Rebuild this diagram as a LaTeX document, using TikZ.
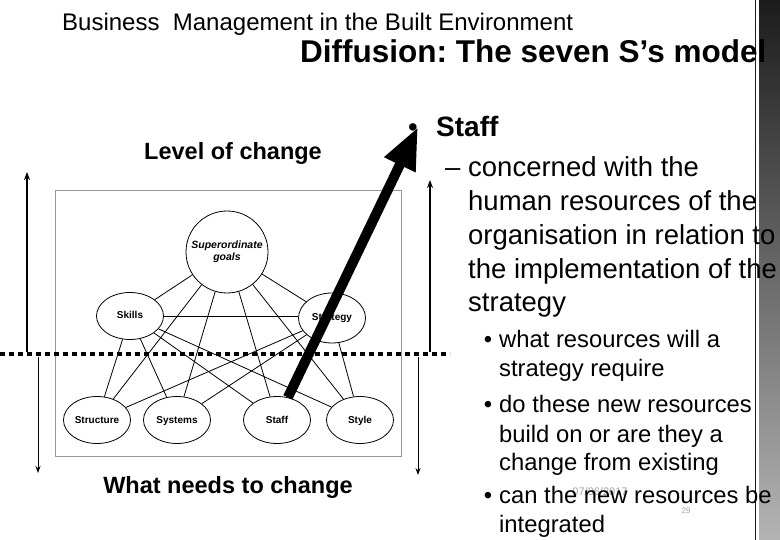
\documentclass[tikz,border=0pt]{standalone}
\usepackage{fontspec}
\setmainfont{Liberation Sans}
\usepackage{tikz}
\usetikzlibrary{arrows.meta,shapes.geometric,positioning}
\usepackage{xcolor}
\definecolor{framegray}{RGB}{150,150,150}
\definecolor{stripdark}{RGB}{28,28,28}
\definecolor{striplight}{RGB}{180,180,180}
\definecolor{footgray}{RGB}{165,165,165}
\tikzstyle{sbox} = [draw, ellipse, line width=0.8pt, minimum width=67pt, minimum height=47pt, inner sep=0pt, text height=8pt, text depth=2pt, font=\bfseries\fontsize{10}{10}\selectfont]
\tikzstyle{link} = [line width=0.8pt]
\tikzstyle{levelarrow} = [line width=1.6pt, -{Stealth[length=8pt,width=6pt]}]
\tikzstyle{needarrow} = [line width=1pt, -{Stealth[length=7pt,width=5pt]}]
\tikzstyle{mainline} = [anchor=base west, inner sep=0pt, font=\fontsize{27.5}{27.5}\selectfont]
\tikzstyle{subline} = [anchor=base west, inner sep=0pt, font=\fontsize{23.8}{23.8}\selectfont]
\frenchspacing

\begin{document}
\begin{tikzpicture}[x=1pt, y=-1pt]
\useasboundingbox (0,0) rectangle (780,540);
\fill[white] (0,0) rectangle (780,540);

% Side strip
\shade[top color=stripdark, bottom color=striplight] (759,0) rectangle (780,540);
\draw[line width=1.4pt, stripdark] (755.5,0) -- (755.5,540);

% Headings
\node[anchor=base west, inner sep=0pt, font=\fontsize{24}{24}\selectfont] (course) at (62,31) {Business\ \ Management in the Built Environment};
\node[anchor=base west, inner sep=0pt, font=\bfseries\fontsize{31.5}{31.5}\selectfont] (title) at (300,63) {Diffusion: The seven S’s model};

% Seven S's diagram
\draw[framegray] (55,190) rectangle (401,456);
\node[draw, circle, line width=0.8pt, minimum size=82pt, inner sep=0pt, align=center, font=\bfseries\itshape\fontsize{10.5}{12}\selectfont] (goals) at (227,252) {Superordinate\\goals};
\node[sbox] (skills) at (130,316) {Skills};
\node[sbox, minimum height=50pt] (strategy) at (332,318) {Strategy};
\node[sbox] (structure) at (97,420) {Structure};
\node[sbox] (systems) at (177,420) {Systems};
\node[sbox] (staff) at (277,420) {Staff};
\node[sbox] (style) at (360,420) {Style};

\foreach \s in {skills,strategy,structure,systems,staff,style}
    \draw[link] (goals) -- (\s);
\draw[link] (skills.east) -- (skills.east -| strategy.west);
\foreach \s in {structure,systems,staff,style}
    \draw[link] (skills) -- (\s);
\foreach \s in {structure,systems,staff,style}
    \draw[link] (strategy) -- (\s);

% Level line and arrows
\draw[line width=4.5pt, dash pattern=on 5pt off 4pt] (0,354) -- (450,354);
\coordinate (lupfoot) at (27,352);
\coordinate (luptop) at (27,172);
\coordinate (rupfoot) at (430,352);
\coordinate (ruptop) at (430,180);
\coordinate (ldownfoot) at (38,357);
\coordinate (ldownend) at (38,473);
\coordinate (rdownfoot) at (418,357);
\coordinate (rdownend) at (418,475);
\draw[levelarrow] (lupfoot) -- (luptop);
\draw[levelarrow] (rupfoot) -- (ruptop);
\draw[needarrow] (ldownfoot) -- (ldownend);
\draw[needarrow] (rdownfoot) -- (rdownend);

\node[font=\bfseries\fontsize{23.5}{23.5}\selectfont] (level) at (233,153) {Level of change};
\node[font=\bfseries\fontsize{23.5}{23.5}\selectfont] (needs) at (228,487) {What needs to change};

% Footer
\node[text=footgray, font=\fontsize{11}{11}\selectfont] (date) at (600,492) {07/06/2017};
\node[text=footgray, font=\fontsize{8}{8}\selectfont] (page) at (686,511) {29};

% Staff text
\node[mainline, anchor=base] (staffdot) at (413,137) {•};
\node[mainline, font=\bfseries\fontsize{28}{28}\selectfont] (stafftitle) at (436,137) {Staff};
\node[mainline] (dash) at (445,177) {–};
\foreach \txt [count=\i] in {concerned with the, human resources of the, organisation in relation to, the implementation of the, strategy}
    \node[mainline] (concern\i) at (468,{177+(\i-1)*33.7}) {\txt};
\foreach \txt/\yy [count=\i] in {what resources will a/348, strategy require/377, do these new resources/413, build on or are they a/442, change from existing/470, can the new resources be/503, integrated/532}
    \node[subline] (ask\i) at (499,\yy) {\txt};
\foreach \yy [count=\i] in {348,413,503}
    \node[subline, anchor=base] (askdot\i) at (488,\yy) {•};

% Big arrow
\coordinate (armtip) at (418,127);
\draw[line width=10pt, -{Triangle[length=42pt,width=32pt]}] (staff) -- (armtip);
\end{tikzpicture}
\end{document}
